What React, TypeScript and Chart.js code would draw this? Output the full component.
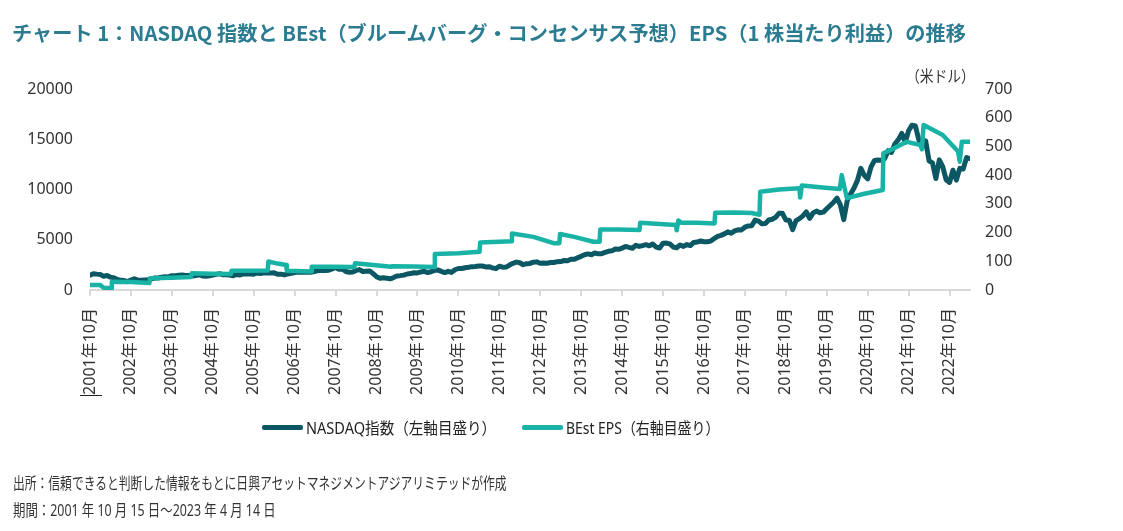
import React, { useEffect, useRef } from "react";
import { Chart, registerables } from "chart.js";

Chart.register(...registerables);

// X-axis tick labels (every October), positioned at month offsets from Oct 2001
const yearLabels = [
  "2001年10月", "2002年10月", "2003年10月", "2004年10月", "2005年10月", "2006年10月",
  "2007年10月", "2008年10月", "2009年10月", "2010年10月", "2011年10月", "2012年10月",
  "2013年10月", "2014年10月", "2015年10月", "2016年10月", "2017年10月", "2018年10月",
  "2019年10月", "2020年10月", "2021年10月", "2022年10月",
];
const tickMonths = [0, 12, 24, 36, 48, 60, 72, 84, 96, 108, 120, 132, 144, 156, 168, 180, 192, 204, 216, 228, 240, 252];

// NASDAQ index, one value per month from Oct 2001 to Apr 2023 (left axis)
const nasdaqValues = [
  1480, 1620, 1580,
  1550, 1359, 1452, 1277, 1210, 1051, 961, 942, 832, 989, 1116, 984,
  964, 1000, 1018, 1106, 1196, 1201, 1272, 1328, 1303, 1424, 1425, 1468,
  1494, 1452, 1438, 1384, 1434, 1517, 1393, 1373, 1406, 1485, 1557, 1621,
  1519, 1517, 1483, 1415, 1542, 1493, 1603, 1582, 1602, 1579, 1693, 1645,
  1714, 1684, 1703, 1704, 1565, 1575, 1499, 1600, 1654, 1742, 1795, 1756,
  1790, 1760, 1772, 1866, 1930, 1935, 1932, 1967, 2092, 2239, 2071, 2085,
  1845, 1762, 1781, 1948, 2029, 1837, 1872, 1902, 1624, 1327, 1166, 1212,
  1174, 1116, 1237, 1389, 1429, 1478, 1592, 1631, 1720, 1702, 1795, 1860,
  1739, 1815, 1956, 2000, 1856, 1734, 1853, 1752, 2017, 2142, 2136, 2217,
  2266, 2325, 2339, 2393, 2384, 2300, 2325, 2205, 2124, 2363, 2275, 2278,
  2480, 2652, 2775, 2713, 2516, 2616, 2645, 2772, 2799, 2659, 2678, 2660,
  2732, 2738, 2819, 2833, 2934, 2910, 3061, 3050, 3218, 3351, 3508, 3592,
  3505, 3679, 3596, 3614, 3738, 3850, 3896, 4082, 4049, 4158, 4340, 4236,
  4151, 4446, 4334, 4419, 4509, 4396, 4578, 4274, 4182, 4648, 4665, 4593,
  4279, 4202, 4483, 4341, 4523, 4418, 4730, 4771, 4875, 4801, 4810, 4864,
  5116, 5330, 5436, 5584, 5788, 5647, 5880, 5988, 5979, 6248, 6374, 6396,
  6950, 6855, 6582, 6605, 6967, 7040, 7232, 7637, 7627, 6968, 6949, 6000,
  6907, 7106, 7378, 7781, 7127, 7671, 7848, 7692, 7750, 8083, 8404, 8733,
  9151, 8462, 7000, 8890, 9555, 10156, 10905, 12110, 11418, 11053, 12268, 12888,
  12925, 12910, 13091, 13861, 13687, 14554, 14959, 15583, 14690, 15850, 16400, 16320,
  14930, 14237, 14838, 12855, 12643, 11100, 12947, 12272, 10971, 10700, 11918, 10940,
  12102, 12042, 13182, 13080,
];

// BEst EPS (right axis): [month offset from Oct 2001, USD]
const epsPoints: [number, number][] = [
  [0, 17], [3, 17], [4, 8], [6.2, 6], [6.4, 29], [12, 28], [17.4, 24], [17.6, 41],
  [24, 43], [29.6, 45], [29.8, 58], [36, 57], [41.3, 56], [41.5, 67], [52.1, 68],
  [52.3, 99], [55, 92], [57.5, 87], [57.7, 67], [64.8, 64], [65, 81], [71, 81],
  [77.5, 80], [77.7, 93], [88.3, 81], [88.5, 83], [95, 82], [100.9, 80], [101.1, 125],
  [108, 128], [114.2, 133], [114.4, 165], [123.5, 170], [123.7, 197], [130, 185],
  [135.9, 163], [137.6, 163], [137.8, 195], [142, 185], [147.6, 168], [149.4, 168],
  [149.6, 211], [155, 211], [161.1, 209], [161.3, 234], [167, 230], [171.8, 226],
  [172, 208], [172.5, 242], [173.5, 234], [178, 234], [183.1, 232], [183.3, 269],
  [189, 270], [194, 268], [196.3, 262], [196.5, 342], [202, 350], [208, 354],
  [208.2, 322], [208.7, 364], [214, 358], [219.8, 352], [220.4, 400], [221.9, 320],
  [227, 335], [232.4, 348], [232.6, 476], [236, 495], [239.5, 516], [243.5, 505],
  [243.9, 490], [244.4, 575], [250, 540], [254.5, 482], [255, 447], [255.6, 516],
  [258, 516],
];

const NASDAQ_COLOR = "#0b5864";
const EPS_COLOR = "#19b3a6";
const TEXT_COLOR = "#333333";
const FONT = "'Noto Sans', 'Noto Sans CJK JP', sans-serif";

const condensed = (scale: number): React.CSSProperties => ({
  display: "inline-block",
  transform: `scaleX(${scale})`,
  transformOrigin: "left center",
  whiteSpace: "nowrap",
});

export default function App() {
  const canvasRef = useRef<HTMLCanvasElement | null>(null);

  useEffect(() => {
    const canvas = canvasRef.current;
    if (!canvas) return;
    const nasdaqData = nasdaqValues.map((v, i) => ({ x: i, y: v }));
    const epsData = epsPoints.map(([m, v]) => ({ x: m, y: v }));
    const tickFont = { family: FONT, size: 16 };

    const chart = new Chart(canvas, {
      type: "line",
      data: {
        datasets: [
          {
            label: "BEst EPS（右軸目盛り）",
            data: epsData,
            yAxisID: "y1",
            borderColor: EPS_COLOR,
            backgroundColor: EPS_COLOR,
            borderWidth: 4.5,
            pointRadius: 0,
            tension: 0,
            borderJoinStyle: "round",
            borderCapStyle: "round",
            order: 0,
          },
          {
            label: "NASDAQ指数（左軸目盛り）",
            data: nasdaqData,
            yAxisID: "y",
            borderColor: NASDAQ_COLOR,
            backgroundColor: NASDAQ_COLOR,
            borderWidth: 5,
            pointRadius: 0,
            tension: 0,
            borderJoinStyle: "round",
            borderCapStyle: "round",
            order: 1,
          },
        ],
      },
      options: {
        animation: false,
        responsive: false,
        maintainAspectRatio: false,
        devicePixelRatio: 1,
        layout: { padding: { top: 89, left: 0, right: 0, bottom: 0 } },
        plugins: { legend: { display: false }, tooltip: { enabled: false } },
        scales: {
          x: {
            type: "linear",
            min: 0,
            max: 258,
            afterBuildTicks: (axis: any) => {
              axis.ticks = tickMonths.map((v) => ({ value: v }));
            },
            afterFit: (axis: any) => {
              axis.height = 241;
            },
            ticks: {
              autoSkip: false,
              minRotation: 90,
              maxRotation: 90,
              padding: 12,
              font: tickFont,
              color: TEXT_COLOR,
              callback: (_v: any, index: number) => yearLabels[index] ?? "",
            },
            grid: { drawOnChartArea: false, drawTicks: true, tickLength: 6, color: "#d9d9d9", lineWidth: 2 },
            border: { display: true, color: "#d9d9d9", width: 2 },
          },
          y: {
            position: "left",
            min: 0,
            max: 20000,
            afterFit: (axis: any) => {
              axis.width = 90;
            },
            ticks: { stepSize: 5000, padding: 17, font: tickFont, color: TEXT_COLOR, callback: (v: any) => String(v) },
            grid: { display: false, drawTicks: false },
            border: { display: false },
          },
          y1: {
            position: "right",
            min: 0,
            max: 700,
            afterFit: (axis: any) => {
              axis.width = 153;
            },
            ticks: { stepSize: 100, padding: 15, font: tickFont, color: TEXT_COLOR, callback: (v: any) => String(v) },
            grid: { display: false, drawTicks: false },
            border: { display: false },
          },
        },
      },
    } as any);

    return () => chart.destroy();
  }, []);

  return (
    <div style={{ position: "fixed", left: 0, top: 0, width: 1123, height: 531, background: "#fff", fontFamily: FONT, overflow: "hidden" }}>
      <canvas ref={canvasRef} width={1123} height={531} style={{ position: "absolute", left: 0, top: 0, width: 1123, height: 531 }} />
      <div style={{ position: "absolute", left: 12, top: 21, height: 24, lineHeight: "24px", fontSize: 20, fontWeight: 700, color: "#2c7c91", fontFamily: "'Noto Sans CJK JP', sans-serif" }}>
        <span style={condensed(1.01)}>チャート 1：NASDAQ 指数と BEst（ブルームバーグ・コンセンサス予想）EPS（1 株当たり利益）の推移</span>
      </div>
      <div style={{ position: "absolute", left: 906, top: 66, height: 20, lineHeight: "20px", fontSize: 16, color: TEXT_COLOR }}>
        <span style={condensed(0.86)}>（米ドル）</span>
      </div>
      {/* Legend */}
      <div style={{ position: "absolute", left: 262, top: 425, width: 41, height: 5, background: NASDAQ_COLOR, borderRadius: 2 }} />
      <div style={{ position: "absolute", left: 306, top: 417, height: 22, lineHeight: "22px", fontSize: 16, color: "#222" }}>
        <span style={condensed(0.91)}>NASDAQ指数（左軸目盛り）</span>
      </div>
      <div style={{ position: "absolute", left: 522, top: 425, width: 41, height: 5, background: EPS_COLOR, borderRadius: 2 }} />
      <div style={{ position: "absolute", left: 566, top: 417, height: 22, lineHeight: "22px", fontSize: 16, color: "#222" }}>
        <span style={condensed(0.87)}>BEst EPS（右軸目盛り）</span>
      </div>
      {/* small underline mark below the first x label */}
      <div style={{ position: "absolute", left: 80, top: 395, width: 22, height: 1, background: "#222" }} />
      {/* Footer */}
      <div style={{ position: "absolute", left: 13, top: 473, height: 20, lineHeight: "20px", fontSize: 15.5, color: TEXT_COLOR }}>
        <span style={condensed(0.76)}>出所：信頼できると判断した情報をもとに日興アセットマネジメントアジアリミテッドが作成</span>
      </div>
      <div style={{ position: "absolute", left: 13, top: 500, height: 20, lineHeight: "20px", fontSize: 15.5, color: TEXT_COLOR }}>
        <span style={condensed(0.8)}>期間：2001 年 10 月 15 日～2023 年 4 月 14 日</span>
      </div>
    </div>
  );
}
